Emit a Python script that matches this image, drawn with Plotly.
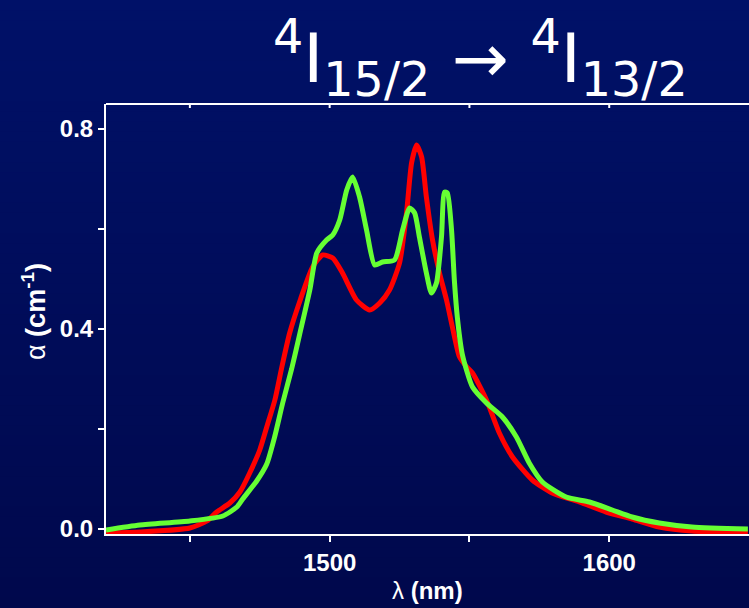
import plotly.graph_objects as go

# ---- data ----
red_wl = [1420.0, 1432.1, 1450.0, 1456.1, 1459.6, 1464.3, 1467.9, 1471.4, 1475.0, 1477.5,
          1480.4, 1482.9, 1485.7, 1489.6, 1493.9, 1497.5, 1501.1, 1504.6, 1509.6, 1514.3,
          1517.9, 1521.4, 1525.0, 1527.5, 1529.3, 1531.1, 1532.9, 1534.6, 1536.8, 1539.3,
          1541.8, 1543.9, 1546.4, 1548.9, 1551.1, 1556.1, 1560.7, 1565.4, 1572.5, 1579.6,
          1589.3, 1598.9, 1608.2, 1617.9, 1629.6, 1649.6]
red_alpha = [-0.008, -0.006, 0.002, 0.016, 0.034, 0.052, 0.074, 0.112, 0.158, 0.204,
             0.258, 0.324, 0.392, 0.460, 0.524, 0.548, 0.542, 0.512, 0.458, 0.438,
             0.452, 0.478, 0.532, 0.632, 0.732, 0.768, 0.744, 0.664, 0.578, 0.512,
             0.458, 0.404, 0.345, 0.325, 0.312, 0.258, 0.192, 0.144, 0.098, 0.072,
             0.054, 0.034, 0.020, 0.004, -0.004, -0.006]

green_wl = [1420.0, 1432.1, 1450.0, 1461.8, 1466.8, 1468.9, 1473.9, 1477.5, 1480.4, 1483.2,
            1486.4, 1489.3, 1492.9, 1495.4, 1498.9, 1501.1, 1503.6, 1506.1, 1508.2, 1510.7,
            1513.2, 1516.1, 1518.9, 1523.2, 1526.1, 1528.6, 1530.4, 1532.1, 1534.6, 1536.4,
            1538.2, 1540.0, 1541.1, 1542.1, 1543.6, 1544.6, 1545.7, 1547.5, 1551.1, 1556.1,
            1561.8, 1566.8, 1571.4, 1576.1, 1584.6, 1592.9, 1601.1, 1608.2, 1617.9, 1629.6,
            1649.6]
green_alpha = [-0.002, 0.008, 0.016, 0.026, 0.044, 0.060, 0.096, 0.130, 0.186, 0.252,
               0.320, 0.390, 0.478, 0.552, 0.578, 0.588, 0.618, 0.678, 0.704, 0.664,
               0.598, 0.528, 0.534, 0.538, 0.598, 0.642, 0.632, 0.584, 0.512, 0.472,
               0.492, 0.584, 0.674, 0.672, 0.598, 0.498, 0.422, 0.348, 0.284, 0.252,
               0.224, 0.184, 0.132, 0.094, 0.064, 0.054, 0.038, 0.024, 0.012, 0.004,
               0.000]

x_tickvals = [1450, 1500, 1550, 1600]
x_ticktext = ["", "1500", "", "1600"]
y_tickvals = [0.0, 0.2, 0.4, 0.6, 0.8]
y_ticktext = ["0.0", "", "0.4", "", "0.8"]

title_text = "<sup>4</sup>I<sub>15/2</sub> \u2192 <sup>4</sup>I<sub>13/2</sub>"
x_title = "\u03bb <b>(nm)</b>"
y_title = "\u03b1 <b>(cm<sup>-1</sup>)</b>"

# ---- figure ----
W, H = 749, 608
ML, MR, MT, MB = 106, 0, 104, 74
plot_h = H - MT - MB
plot_w = W - ML - MR

def py_to_paper(p):
    return (H - MB - p) / plot_h

def px_to_paper(p):
    return (p - ML) / plot_w

fig = go.Figure()
fig.add_trace(go.Scatter(x=red_wl, y=red_alpha, mode="lines",
                         line=dict(color="#ff0000", width=5, shape="spline", smoothing=0.6),
                         showlegend=False))
fig.add_trace(go.Scatter(x=green_wl, y=green_alpha, mode="lines",
                         line=dict(color="#66ff33", width=5, shape="spline", smoothing=0.6),
                         showlegend=False))

# vertical background gradient
shapes = []
n = 60
top = (0, 17, 104)
bot = (0, 8, 76)
for i in range(n):
    f = (i + 0.5) / n
    c = tuple(round(top[k] + (bot[k] - top[k]) * f) for k in range(3))
    p0 = H * i / n
    p1 = H * (i + 1) / n + 1
    shapes.append(dict(type="rect", xref="paper", yref="paper",
                       x0=-0.3, x1=1.1, y0=py_to_paper(p1), y1=py_to_paper(p0),
                       fillcolor="rgb(%d,%d,%d)" % c, line=dict(width=0), layer="below"))
# top frame line with inward ticks
shapes.append(dict(type="line", xref="paper", yref="paper", x0=0, x1=1.02, y0=1, y1=1,
                   line=dict(color="white", width=2)))
for tv in x_tickvals:
    shapes.append(dict(type="line", xref="x", yref="paper", x0=tv, x1=tv,
                       y0=1, y1=1 - 4 / plot_h, line=dict(color="white", width=2)))

axis_font = dict(family="Liberation Sans, Arial, sans-serif", size=24, color="white", weight="bold")

fig.update_layout(
    width=W, height=H,
    margin=dict(l=ML, r=MR, t=MT, b=MB),
    paper_bgcolor="rgb(0,12,90)",
    plot_bgcolor="rgba(0,0,0,0)",
    shapes=shapes,
    xaxis=dict(range=[1420, 1650], showgrid=False, zeroline=False,
               showline=True, linecolor="white", linewidth=2,
               ticks="outside", ticklen=6, tickwidth=2, tickcolor="white",
               tickvals=x_tickvals, ticktext=x_ticktext, tickfont=axis_font),
    yaxis=dict(range=[-0.01, 0.85], showgrid=False, zeroline=False,
               showline=True, linecolor="white", linewidth=2,
               ticks="outside", ticklen=6, tickwidth=2, tickcolor="white",
               tickvals=y_tickvals, ticktext=y_ticktext, tickfont=axis_font),
    annotations=[
        dict(text=title_text, xref="paper", yref="paper",
             x=px_to_paper(480), y=py_to_paper(58), xanchor="center", yanchor="middle",
             showarrow=False,
             font=dict(family="Comic Sans MS, DejaVu Sans, sans-serif", size=68, color="white")),
        dict(text=x_title, xref="paper", yref="paper",
             x=0.5, y=py_to_paper(590), xanchor="center", yanchor="middle",
             showarrow=False,
             font=dict(family="Liberation Sans, Arial, sans-serif", size=24, color="white")),
        dict(text=y_title, xref="paper", yref="paper", textangle=-90,
             x=px_to_paper(34), y=py_to_paper(312), xanchor="center", yanchor="middle",
             showarrow=False,
             font=dict(family="Liberation Sans, Arial, sans-serif", size=27, color="white")),
    ],
)

fig.write_html("out.html")
